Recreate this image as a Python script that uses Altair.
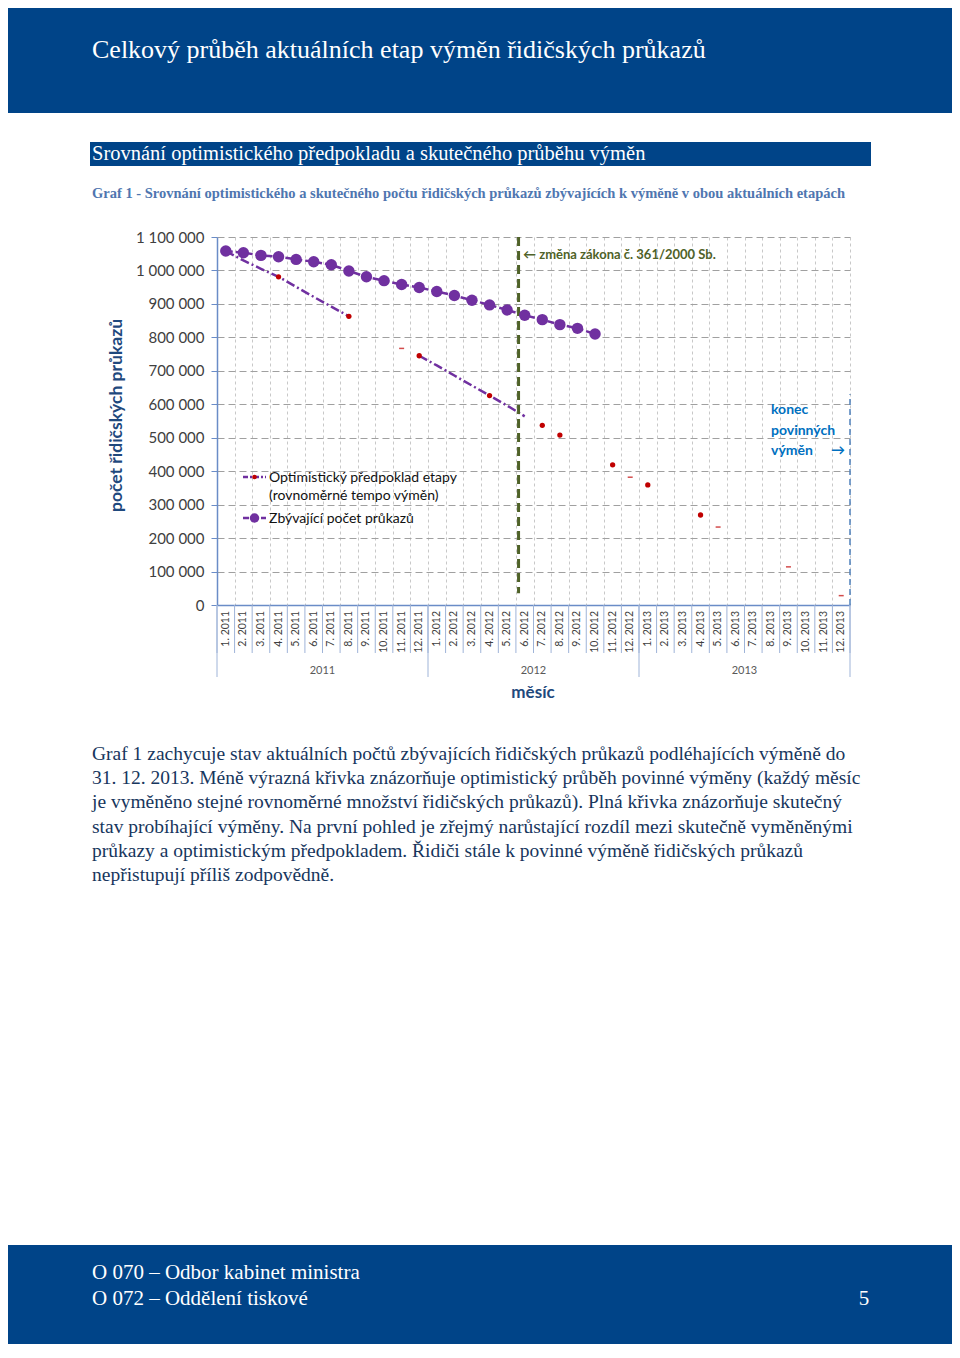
import altair as alt
import pandas as pd

# ---------------- data ----------------
months = [f"{m}. {y}" for y in (2011, 2012, 2013) for m in range(1, 13)]
years = ["2011", "2012", "2013"]

# Zbývající počet průkazů (1. 2011 – 10. 2012)
actual = [1058000, 1053000, 1045000, 1041000, 1033000, 1026000, 1017000, 998500,
          981000, 969500, 958000, 949000, 937000, 925000, 911000, 897000, 882000,
          866000, 853000, 838000, 827000, 810000]

# Optimistický předpoklad – visible parts of the dashed line
opt_line = [1058000, 1030000, 1005000, 981000, 951000, 921000, 892000, 863000,
            None, None, None,
            745000, 716000, 686000, 656000, 626000, 596000, 564000] + [None] * 18

# visible red markers of the optimistic series
opt_dot_months = ["4. 2011", "8. 2011", "12. 2011", "4. 2012", "7. 2012", "8. 2012",
                  "11. 2012", "1. 2013", "4. 2013"]
opt_dot_values = [981000, 863000, 745000, 626000, 537000, 508000, 419000, 359000, 269000]
# small visible fragments of the optimistic series
opt_dash_months = ["11. 2011", "12. 2012", "5. 2013", "9. 2013", "12. 2013"]
opt_dash_values = [767000, 382000, 233000, 114000, 28000]

y_ticks = list(range(0, 1100001, 100000))

law_change_pos = 17.15          # between 5. 2012 and 6. 2012
law_line_range = [1100000, 35000]
end_line_range = [0, 630000]

title_text = "Celkový průběh aktuálních etap výměn řidičských průkazů"
section_text = "Srovnání optimistického předpokladu a skutečného průběhu výměn"
caption_text = ("Graf 1 - Srovnání optimistického a skutečného počtu řidičských průkazů "
                "zbývajících k výměně v obou aktuálních etapách")
paragraph = ("Graf 1 zachycuje stav aktuálních počtů zbývajících řidičských průkazů podléhajících výměně do\n"
             "31. 12. 2013. Méně výrazná křivka znázorňuje optimistický průběh povinné výměny (každý měsíc\n"
             "je vyměněno stejné rovnoměrné množství řidičských průkazů). Plná křivka znázorňuje skutečný\n"
             "stav probíhající výměny. Na první pohled je zřejmý narůstající rozdíl mezi skutečně vyměněnými\n"
             "průkazy a optimistickým předpokladem. Řidiči stále k povinné výměně řidičských průkazů\n"
             "nepřistupují příliš zodpovědně.")
footer_text = "O 070 – Odbor kabinet ministra\nO 072 – Oddělení tiskové"
page_no = "5"
legend_labels = ["Optimistický předpoklad etapy\n(rovnoměrné tempo výměn)", "Zbývající počet průkazů"]
law_note = "\u2190 změna zákona č. 361/2000 Sb."
end_note = "konec\npovinných\nvýměn"
end_arrow = "\u2192"
x_title = "měsíc"
y_title = "počet řidičských průkazů"

# ---------------- frames ----------------
idx = {m: i for i, m in enumerate(months)}
df_actual = pd.DataFrame({"pos": [i + 0.5 for i in range(len(actual))], "v": actual})

seg_rows, seg = [], 0
prev = None
for i, v in enumerate(opt_line):
    if v is None:
        prev = None
        continue
    if prev is None:
        seg += 1
    seg_rows.append({"pos": i + 0.5, "v": v, "seg": seg})
    prev = v
df_opt = pd.DataFrame(seg_rows)
df_dots = pd.DataFrame({"pos": [idx[m] + 0.5 for m in opt_dot_months], "v": opt_dot_values})
df_dash = pd.DataFrame({"pos": [idx[m] + 0.5 for m in opt_dash_months], "v": opt_dash_values})
df_months = pd.DataFrame({"pos": [i + 0.5 for i in range(len(months))], "label": months})
df_bounds = pd.DataFrame({"pos": list(range(len(months) + 1))})
df_ybounds = pd.DataFrame({"pos": [12 * i for i in range(len(years) + 1)]})
df_years = pd.DataFrame({"pos": [12 * i + 6 for i in range(len(years))], "label": years})
df_law = pd.DataFrame({"pos": [law_change_pos], "v": [law_line_range[0]], "v2": [law_line_range[1]]})
df_end = pd.DataFrame({"pos": [len(months)], "v": [end_line_range[0]], "v2": [end_line_range[1]]})


def one(t):
    return pd.DataFrame({"t": [t]})


W, H = 633, 368
PURPLE = "#7030a0"
RED = "#c00000"
AXIS = "#6a8cc7"
BLUE = "#004488"

xs = alt.Scale(domain=[0, 36], nice=False, zero=False)
ys = alt.Scale(domain=[0, 1100000], nice=False)

x_axis = alt.Axis(values=list(range(37)), grid=True, gridColor="#c8c8c8", gridDash=[3, 3],
                  gridWidth=1, labels=False, ticks=False, domain=True, domainColor=AXIS,
                  domainWidth=1.5, title=None)
y_axis = alt.Axis(values=y_ticks, grid=True, gridColor="#a0a0a0", gridDash=[7, 4], gridWidth=1,
                  labelExpr="replace(format(datum.value, ','), regexp(',', 'g'), ' ')",
                  labelFont="Lato", labelFontSize=15, labelColor="#404040", labelPadding=7,
                  tickSize=6, tickColor=AXIS, domainColor=AXIS, domainWidth=1.5,
                  title=y_title, titleFont="Lato", titleFontSize=17.5, titleFontWeight="bold",
                  titleColor="#1f497d", titlePadding=10, titleY=178)


def X():
    return alt.X("pos:Q", scale=xs, axis=x_axis)


def Y():
    return alt.Y("v:Q", scale=ys, axis=y_axis)


layers = []
# actual line
layers.append(alt.Chart(df_actual).mark_line(color=PURPLE, strokeWidth=2.5, strokeDash=[7, 3]).encode(
    x=X(), y=Y()))
# optimistic line
layers.append(alt.Chart(df_opt).mark_line(color=PURPLE, strokeWidth=2.5, strokeDash=[9, 3, 2, 3]).encode(
    x=X(), y=Y(), detail="seg:N"))
# law change rule
layers.append(alt.Chart(df_law).mark_rule(color="#4f6228", strokeWidth=3, strokeDash=[9, 5]).encode(
    x=X(), y=Y(), y2="v2:Q"))
# end of exchanges rule
layers.append(alt.Chart(df_end).mark_rule(color="#4f81bd", strokeWidth=1.5, strokeDash=[6, 4]).encode(
    x=X(), y=Y(), y2="v2:Q"))
# points
layers.append(alt.Chart(df_actual).mark_circle(color=PURPLE, size=130, opacity=1).encode(x=X(), y=Y()))
layers.append(alt.Chart(df_dots).mark_circle(color=RED, size=28, opacity=1).encode(x=X(), y=Y()))
layers.append(alt.Chart(df_dash).mark_tick(color=RED, orient="horizontal", size=5, thickness=1.5).encode(x=X(), y=Y()))

# x axis labels, separators, years, title
layers.append(alt.Chart(df_months).mark_text(angle=270, align="right", baseline="middle", font="Lato",
                                             fontSize=10.5, color="#404040").encode(
    x=X(), y=alt.value(H + 6), text="label:N"))
layers.append(alt.Chart(df_bounds).mark_rule(color="#9fb4d8", strokeWidth=1).encode(
    x=X(), y=alt.value(H), y2=alt.value(H + 48)))
layers.append(alt.Chart(df_ybounds).mark_rule(color="#9fb4d8", strokeWidth=1).encode(
    x=X(), y=alt.value(H), y2=alt.value(H + 72)))
layers.append(alt.Chart(df_years).mark_text(align="center", baseline="middle", font="Lato",
                                            fontSize=11, color="#595959").encode(
    x=X(), y=alt.value(434), text="label:N"))
layers.append(alt.Chart(one(x_title)).mark_text(align="center", baseline="middle", font="Lato",
                                                fontSize=17, fontWeight="bold", color="#1f497d").encode(
    x=alt.value(316), y=alt.value(456), text="t:N"))

# annotations
layers.append(alt.Chart(one(law_note)).mark_text(align="left", baseline="middle", font="Lato",
                                                 fontSize=13, fontWeight="bold", color="#4f6228").encode(
    x=alt.value(306), y=alt.value(18), text="t:N"))
layers.append(alt.Chart(one(end_note)).mark_text(align="left", baseline="middle", font="Lato",
                                                 fontSize=14, fontWeight="bold", color="#0070c0",
                                                 lineBreak="\n", lineHeight=20.5).encode(
    x=alt.value(554), y=alt.value(173), text="t:N"))
layers.append(alt.Chart(one(end_arrow)).mark_text(align="center", baseline="middle", font="Lato",
                                                  fontSize=14, fontWeight="bold", color="#0070c0").encode(
    x=alt.value(621), y=alt.value(214), text="t:N"))

# legend (manual)
for ly, lab, sym in [(240, legend_labels[0], "opt"), (281, legend_labels[1], "act")]:
    d = one(lab)
    dash = [5, 2, 2, 2] if sym == "opt" else [6, 3]
    layers.append(alt.Chart(d).mark_rule(color=PURPLE, strokeWidth=2.5, strokeDash=dash).encode(
        x=alt.value(26), x2=alt.value(49), y=alt.value(ly)))
    if sym == "opt":
        layers.append(alt.Chart(d).mark_circle(color=RED, size=22, opacity=1).encode(
            x=alt.value(37.5), y=alt.value(ly)))
    else:
        layers.append(alt.Chart(d).mark_circle(color=PURPLE, size=90, opacity=1).encode(
            x=alt.value(37.5), y=alt.value(ly)))
    layers.append(alt.Chart(d).mark_text(align="left", baseline="top", font="Lato", fontSize=14,
                                         color="#111111", lineBreak="\n", lineHeight=18).encode(
        x=alt.value(52), y=alt.value(ly - 6), text="t:N"))

# page header / footer / texts
layers.append(alt.Chart(one("")).mark_rect(color=BLUE).encode(
    x=alt.value(-209), x2=alt.value(735), y=alt.value(-229), y2=alt.value(-124)))
layers.append(alt.Chart(one(title_text)).mark_text(align="left", baseline="middle", font="Liberation Serif",
                                                   fontSize=26, color="white").encode(
    x=alt.value(-125), y=alt.value(-187), text="t:N"))
layers.append(alt.Chart(one("")).mark_rect(color=BLUE).encode(
    x=alt.value(-127), x2=alt.value(654), y=alt.value(-95), y2=alt.value(-71)))
layers.append(alt.Chart(one(section_text)).mark_text(align="left", baseline="middle", font="Liberation Serif",
                                                     fontSize=20.5, color="white").encode(
    x=alt.value(-125), y=alt.value(-83), text="t:N"))
layers.append(alt.Chart(one(caption_text)).mark_text(align="left", baseline="middle", font="Liberation Serif",
                                                     fontSize=14.5, fontWeight="bold", color="#4f76b0").encode(
    x=alt.value(-125), y=alt.value(-43), text="t:N"))
layers.append(alt.Chart(one(paragraph)).mark_text(align="left", baseline="alphabetic", font="Liberation Serif",
                                                  fontSize=19.5, color="#17365d", lineBreak="\n",
                                                  lineHeight=24.2).encode(
    x=alt.value(-125), y=alt.value(523), text="t:N"))
layers.append(alt.Chart(one("")).mark_rect(color=BLUE).encode(
    x=alt.value(-209), x2=alt.value(735), y=alt.value(1008), y2=alt.value(1107)))
layers.append(alt.Chart(one(footer_text)).mark_text(align="left", baseline="alphabetic", font="Liberation Serif",
                                                    fontSize=21, color="white", lineBreak="\n",
                                                    lineHeight=26).encode(
    x=alt.value(-125), y=alt.value(1042), text="t:N"))
layers.append(alt.Chart(one(page_no)).mark_text(align="center", baseline="alphabetic", font="Liberation Serif",
                                                fontSize=21, color="white").encode(
    x=alt.value(647), y=alt.value(1068), text="t:N"))

chart = alt.layer(*layers).properties(
    width=W, height=H,
    autosize=alt.AutoSizeParams(type="none"),
    padding={"left": 209, "top": 229, "right": 102, "bottom": 739},
    background="white",
).configure_view(stroke=None)

chart.save("out.html", embed_options={"renderer": "svg", "actions": False})
